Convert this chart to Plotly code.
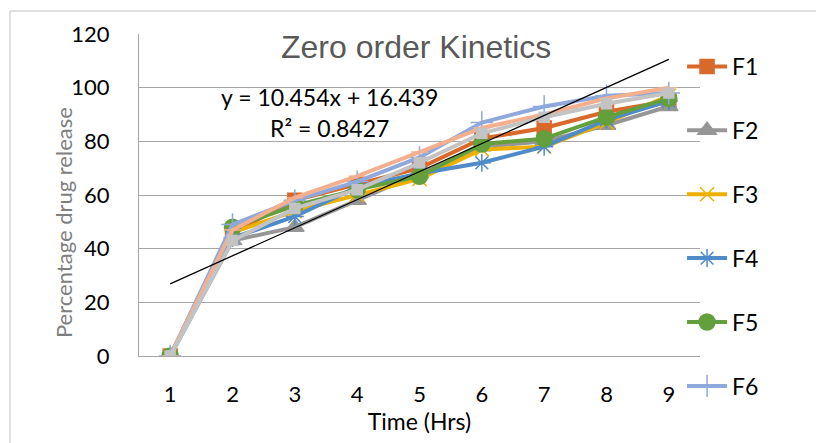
import plotly.graph_objects as go

# Zero order kinetics - percentage drug release over time
time_hrs = [1, 2, 3, 4, 5, 6, 7, 8, 9]

f1 = [0, 46, 58, 64, 70, 81, 85, 91, 95]
f2 = [0, 43, 48, 58, 68, 78, 80, 86, 93]
f3 = [0, 46, 54, 60, 66, 77, 78, 87, 97]
f4 = [0, 44, 52, 63, 68, 72, 78, 88, 95]
f5 = [0, 48, 56, 62, 67, 79, 81, 89, 96]
f6 = [0, 49, 58, 65, 74, 87, 93, 97, 98]
f7 = [0, 47, 59, 67, 76, 85, 90, 96, 100]
f8 = [0, 43, 55, 62, 72, 83, 89, 94, 98]

# trendline from the chart's equation
slope = 10.454
intercept = 16.439
r_squared = 0.8427

series = [
    ("F1", f1, "#D9692A", "square", 14, True),
    ("F2", f2, "#969696", "triangle-up", 16, True),
    ("F3", f3, "#EDB000", "x-thin-open", 14, True),
    ("F4", f4, "#4F8BC9", "asterisk-open", 15, True),
    ("F5", f5, "#63A03D", "circle", 16, True),
    ("F6", f6, "#8FA9DC", "cross-thin-open", 16, True),
    ("F7", f7, "#F4B08E", "line-ew-open", 12, False),
    ("F8", f8, "#C3C3C3", "square", 10, False),
]

fig = go.Figure()

for name, vals, color, sym, size, show in series:
    fig.add_trace(go.Scatter(
        x=time_hrs,
        y=vals,
        name=name,
        mode="lines+markers",
        line=dict(color=color, width=4),
        marker=dict(symbol=sym, size=size, color=color,
                    line=dict(color=color, width=1.5)),
        legendgroup=name,
        showlegend=show,
    ))

trend_x = [time_hrs[0], time_hrs[-1]]
trend_y = [slope * x + intercept for x in trend_x]
fig.add_trace(go.Scatter(
    x=trend_x, y=trend_y, mode="lines",
    line=dict(color="#000000", width=1.3),
    showlegend=False, hoverinfo="skip",
))

# page body has an 8px margin, so the figure is 8px smaller than the window
fig.update_layout(
    width=816,
    height=435,
    plot_bgcolor="#ffffff",
    paper_bgcolor="#ffffff",
    margin=dict(l=131, r=124, t=26, b=87),
    font=dict(family="Lato, Calibri, sans-serif", size=22, color="#000000"),
    legend=dict(
        x=0.968, y=0.966, xanchor="left", yanchor="top",
        font=dict(size=23, family="Lato, Calibri, sans-serif"),
        tracegroupgap=31,
        itemwidth=40,
        maxheight=420,
        bgcolor="rgba(0,0,0,0)",
    ),
    annotations=[
        dict(text="Zero order Kinetics", x=0.493, y=0.96, xref="paper", yref="paper",
             xanchor="center", yanchor="middle", showarrow=False,
             font=dict(size=32, color="#595959", family="Liberation Sans, Arial")),
        dict(text="y = %.3fx + %.3f" % (slope, intercept), x=0.339, y=0.804,
             xref="paper", yref="paper", xanchor="center", yanchor="middle",
             showarrow=False, font=dict(size=23)),
        dict(text="R² = %.4f" % r_squared, x=0.339, y=0.708,
             xref="paper", yref="paper", xanchor="center", yanchor="middle",
             showarrow=False, font=dict(size=23)),
        dict(text="Percentage drug release", x=-0.1355, y=0.416, textangle=-90,
             xref="paper", yref="paper", xanchor="center", yanchor="middle",
             showarrow=False, font=dict(size=22, color="#7F7F7F")),
    ],
    shapes=[
        # outer chart border (only left and top fall inside the picture)
        dict(type="line", xref="paper", yref="paper", x0=-0.23, x1=-0.23,
             y0=-0.3, y1=1.0714, line=dict(color="#BFBFBF", width=1)),
        dict(type="line", xref="paper", yref="paper", x0=-0.23, x1=1.3,
             y0=1.0714, y1=1.0714, line=dict(color="#BFBFBF", width=1)),
    ],
)

fig.update_xaxes(
    range=[0.5, 9.5],
    tickmode="array", tickvals=time_hrs,
    showgrid=False, zeroline=False,
    showline=True, linecolor="#A6A6A6", linewidth=1,
    ticks="", ticklabelstandoff=19,
    tickfont=dict(size=22),
    title=dict(text="Time (Hrs)", font=dict(size=23), standoff=0),
)
fig.update_yaxes(
    range=[0, 120], dtick=20,
    showgrid=True, gridcolor="#A6A6A6", gridwidth=1,
    zeroline=False,
    showline=True, linecolor="#A6A6A6", linewidth=1,
    ticks="", ticklabelstandoff=24,
    tickfont=dict(size=22),
)

fig.write_html("out.html")
